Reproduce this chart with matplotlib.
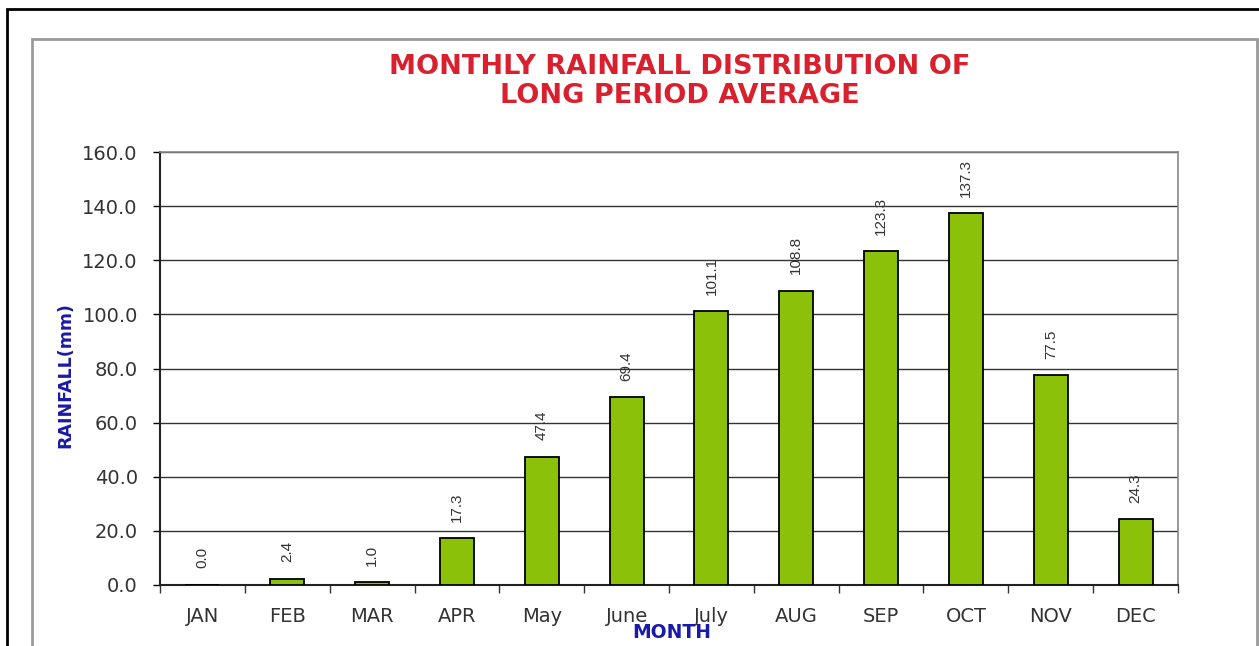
#!/usr/bin/env python3
"""
Monthly rainfall distribution of long period average - bar chart
"""

import numpy as np
import matplotlib
matplotlib.use("Agg")
import matplotlib.pyplot as plt
from matplotlib.patches import Rectangle

months = ['JAN', 'FEB', 'MAR', 'APR', 'May', 'June', 'July', 'AUG', 'SEP', 'OCT', 'NOV', 'DEC']
rainfall = [0.0, 2.4, 1.0, 17.3, 47.4, 69.4, 101.1, 108.8, 123.3, 137.3, 77.5, 24.3]
y_ticks = [0, 20, 40, 60, 80, 100, 120, 140, 160]

plt.rcParams['font.family'] = ['DejaVu Sans']

fig = plt.figure(figsize=(12.59, 6.46), dpi=100)
W, H = 1259, 646

# Outer black frame and inner grey frame (both run off the right/bottom edge)
fig.patches.append(Rectangle((7 / W, -0.05), 1.2, 1 - 9 / H + 0.05, transform=fig.transFigure,
                             fill=False, edgecolor='black', linewidth=2.0))
fig.patches.append(Rectangle((32 / W, -0.05), (1257 - 32) / W, 1 - 39 / H + 0.05,
                             transform=fig.transFigure, fill=False,
                             edgecolor='#9a9a9a', linewidth=2.0))

ax = fig.add_axes([160 / W, 1 - 585 / H, (1178 - 160) / W, (585 - 152) / H])

x = np.arange(len(months))
ax.bar(x, rainfall, width=0.4, color='#8cc10a', edgecolor='black', linewidth=1.3, zorder=3)

for xi, v in zip(x, rainfall):
    ax.annotate(f'{v:.1f}', (xi, v), xytext=(0, 12), textcoords='offset points',
                rotation=90, ha='center', va='bottom', fontsize=11,
                family='Liberation Sans', color='#333333')

ax.set_xlim(-0.5, len(months) - 0.5)
ax.set_ylim(0, 160)
ax.set_yticks(y_ticks)
ax.set_yticklabels([f'{t:.1f}' for t in y_ticks], fontsize=14, color='#333333')
ax.tick_params(axis='y', direction='out', length=5, width=1, pad=11)

ax.set_xticks(x)
ax.set_xticklabels(months, fontsize=14, color='#333333')
ax.tick_params(axis='x', which='major', length=0, pad=16)
ax.set_xticks(np.arange(-0.5, len(months), 1), minor=True)
ax.tick_params(axis='x', which='minor', direction='out', length=6, width=1, color='#333333')

ax.yaxis.grid(True, color='#333333', linewidth=1.0, zorder=0)
ax.set_axisbelow(True)
for side in ['left', 'bottom']:
    ax.spines[side].set_linewidth(1.5)
    ax.spines[side].set_color('#222222')
for side in ['top', 'right']:
    ax.spines[side].set_color('#888888')
    ax.spines[side].set_linewidth(1.2)

fig.text(680 / W, 1 - 67 / H, 'MONTHLY RAINFALL DISTRIBUTION OF', ha='center', va='center',
         fontsize=19.5, fontweight='bold', color='#d8202e')
fig.text(680 / W, 1 - 96 / H, 'LONG PERIOD AVERAGE', ha='center', va='center',
         fontsize=19.5, fontweight='bold', color='#d8202e')

fig.text(65 / W, 1 - 375 / H, 'RAINFALL(mm)', rotation=90, ha='center', va='center',
         fontsize=12.5, fontweight='bold', color='#1a1aa8')
fig.text(672 / W, 1 - 632 / H, 'MONTH', ha='center', va='center',
         fontsize=13.5, fontweight='bold', color='#1a1aa8')

plt.savefig('out.png', dpi=100)
plt.close()
